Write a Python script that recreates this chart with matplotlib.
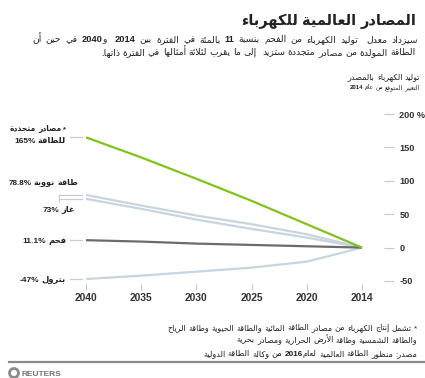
import re
import matplotlib
matplotlib.use('Agg')
import matplotlib.pyplot as plt
from matplotlib.transforms import Affine2D
from matplotlib.patches import Circle

# ---------------- data ----------------
years = ['2014', '2020', '2025', '2030', '2035', '2040']
renewables = [0, 35, 70, 103, 135, 165]
nuclear = [0, 20, 35, 48, 63, 78.8]
gas = [0, 15, 28, 42, 58, 73]
coal = [0, 2, 4, 6, 9, 11.1]
oil = [0, -21, -30, -36, -42, -47]
yticks = [-50, 0, 50, 100, 150, 200]
ytick_labels = ['-50', '0', '50', '100', '150', '200 %']

title = 'المصادر العالمية للكهرباء'
subtitle1 = 'سيزداد معدل  توليد الكهرباء من الفحم بنسبة 11 بالمئة في الفترة بين 2014  و2040 في حين أن'
subtitle2 = 'الطاقة المولدة من مصادر متجددة ستزيد  إلى ما يقرب لثلاثة أمثالها في الفترة ذاتها.'
head1 = 'توليد الكهرباء بالمصدر'
head2 = 'التغيير المتوقع من عام 2014'
lab_renew = ['* مصادر متجددة', 'للطاقة 165%']
lab_nuclear = 'طاقة نووية 78.8%'
lab_gas = 'غاز 73%'
lab_coal = 'فحم 11.1%'
lab_oil = 'بترول -47%'
foot1 = '* تشمل إنتاج الكهرباء من مصادر الطاقة المائية والطاقة الحيوية وطاقة الرياح'
foot2 = 'والطاقة الشمسية وطاقة الأرض الحرارية ومصادر بحرية'
source = 'مصدر: منظور الطاقة العالمية لعام2016 من وكالة الطاقة الدولية'

# ---------------- Arabic shaping (presentation forms) ----------------
DUAL = {0x0626: 0xFE89, 0x0628: 0xFE8F, 0x062A: 0xFE95, 0x062B: 0xFE99, 0x062C: 0xFE9D,
        0x062D: 0xFEA1, 0x062E: 0xFEA5, 0x0633: 0xFEB1, 0x0634: 0xFEB5, 0x0635: 0xFEB9,
        0x0636: 0xFEBD, 0x0637: 0xFEC1, 0x0638: 0xFEC5, 0x0639: 0xFEC9, 0x063A: 0xFECD,
        0x0641: 0xFED1, 0x0642: 0xFED5, 0x0643: 0xFED9, 0x0644: 0xFEDD, 0x0645: 0xFEE1,
        0x0646: 0xFEE5, 0x0647: 0xFEE9, 0x064A: 0xFEF1}
RIGHT = {0x0622: 0xFE81, 0x0623: 0xFE83, 0x0624: 0xFE85, 0x0625: 0xFE87, 0x0627: 0xFE8D,
         0x0629: 0xFE93, 0x062F: 0xFEA9, 0x0630: 0xFEAB, 0x0631: 0xFEAD, 0x0632: 0xFEAF,
         0x0648: 0xFEED, 0x0649: 0xFEEF}
NONJ = {0x0621: 0xFE80}
LAMALEF = {0x0627: 0xFEFB, 0x0623: 0xFEF7, 0x0625: 0xFEF9, 0x0622: 0xFEF5}


def joins_next(c):
    return ord(c) in DUAL or c == '\u0640'


def joins_prev(c):
    return ord(c) in DUAL or ord(c) in RIGHT or c == '\u0640'


def shape(s):
    out = []
    i, n = 0, len(s)
    while i < n:
        c = s[i]
        o = ord(c)
        pj = i > 0 and joins_next(s[i - 1])
        if o == 0x0644 and i + 1 < n and ord(s[i + 1]) in LAMALEF:
            b = LAMALEF[ord(s[i + 1])]
            out.append(chr(b + 1 if pj else b))
            i += 2
            continue
        nj = joins_next(c) and i + 1 < n and joins_prev(s[i + 1])
        if o in DUAL:
            b = DUAL[o]
            out.append(chr(b + (3 if pj and nj else 1 if pj else 2 if nj else 0)))
        elif o in RIGHT:
            b = RIGHT[o]
            out.append(chr(b + 1 if pj else b))
        elif o in NONJ:
            out.append(chr(NONJ[o]))
        else:
            out.append(c)
        i += 1
    return ''.join(out)


NUM = re.compile(r'-?\d[\d.,]*%?')


def runs(s):
    parts, pos = [], 0
    for m in NUM.finditer(s):
        if m.start() > pos:
            parts.append((False, s[pos:m.start()]))
        parts.append((True, m.group()))
        pos = m.end()
    if pos < len(s):
        parts.append((False, s[pos:]))
    return parts


# ---------------- figure ----------------
W, H, DPI = 425, 378, 100
fig = plt.figure(figsize=(W / DPI, H / DPI), dpi=DPI)
fig.patch.set_facecolor('white')
T = Affine2D().scale(1, -1).translate(0, H)   # top-left pixel coords
renderer = fig.canvas.get_renderer()
FAM = ['Liberation Sans', 'DejaVu Sans']
TXT = '#222222'


def _w(txt, size, weight):
    t = fig.text(0, 0, txt, fontsize=size, fontweight=weight, family=FAM, transform=T)
    w = t.get_window_extent(renderer).width
    t.remove()
    return w


def _layout(s, size, weight, numweight, color):
    seq = []
    for isnum, t in reversed(runs(s)):
        v = t if isnum else shape(t)[::-1]
        w = numweight if isnum else weight
        for piece in re.split(r'( )', v):
            if piece == ' ':
                seq.append(None)
            elif piece:
                seq.append((piece, w))
    # effective gap width for one space (corrects bbox padding)
    b = shape('ب')
    gap = _w(b + ' ' + b, size, weight) - 2 * _w(b, size, weight)
    items = []
    for tok in seq:
        if tok is None:
            items.append(None)
            continue
        art = fig.text(0, 0, tok[0], fontsize=size, fontweight=tok[1], family=FAM,
                       color=color, transform=T, va='baseline', ha='left')
        items.append((art, art.get_window_extent(renderer).width))
    return items, gap


def rtl(xr, y, s, size, weight='normal', numweight='bold', color=TXT, width=None, fit=None):
    """Draw logical-order Arabic text right-aligned at xr (baseline y, pixels)."""
    items, gap = _layout(s, size, weight, numweight, color)
    total = sum(gap if it is None else it[1] for it in items)
    if fit is not None:
        for it in items:
            if it is not None:
                it[0].remove()
        size = size * fit / total
        items, gap = _layout(s, size, weight, numweight, color)
        total = sum(gap if it is None else it[1] for it in items)
    ngap = sum(1 for it in items if it is None)
    if width is not None and ngap:
        gap = gap + (width - total) / ngap
        total = width
    x = xr - total
    for it in items:
        if it is None:
            x += gap
        else:
            it[0].set_position((x, y))
            x += it[1]
    return total


# ---------------- axes ----------------
ax = fig.add_axes([86 / W, 1 - 281 / H, (362 - 86) / W, (281 - 114) / H])
ax.set_facecolor('none')
xs = list(range(len(years)))
LIGHT = '#c8d5de'
ax.plot(xs, oil, color=LIGHT, lw=1.6, clip_on=False, solid_capstyle='butt')
ax.plot(xs, nuclear, color=LIGHT, lw=1.6, clip_on=False, solid_capstyle='butt')
ax.plot(xs, gas, color=LIGHT, lw=1.6, clip_on=False, solid_capstyle='butt')
ax.plot(xs, coal, color='#6b6b6b', lw=1.6, clip_on=False, solid_capstyle='butt')
ax.plot(xs, renewables, color='#80c31c', lw=1.6, clip_on=False, solid_capstyle='butt')
ax.set_xlim(len(years) - 1, 0)
ax.set_ylim(-50, 200)

for sp in ax.spines.values():
    sp.set_visible(False)
ax.spines['right'].set_position(('outward', 16))
ax.spines['bottom'].set_position(('outward', 2))
ax.yaxis.tick_right()
ax.set_yticks(yticks)
ax.set_yticklabels(ytick_labels)
ax.set_xticks(xs)
ax.set_xticklabels(years)
ax.tick_params(axis='y', length=7.2, width=0.8, color='#c8c8c8', pad=3.6,
               labelsize=6.6, labelcolor='#333333', direction='out')
ax.tick_params(axis='x', length=4.3, width=0.8, color='#c8c8c8', pad=2.5,
               labelsize=7.4, labelcolor='#333333', direction='out')
for lab in ax.get_xticklabels() + ax.get_yticklabels():
    lab.set_fontweight('bold')
    lab.set_family('Liberation Sans')


def ypix(v):
    return H - ax.transData.transform((len(years) - 1, v))[1]


# leader lines
LEAD = '#cccccc'


def hline(x0, x1, y):
    fig.add_artist(plt.Line2D([x0, x1], [y, y], color=LEAD, lw=0.9, transform=T))


yr = ypix(renewables[-1]); yn = ypix(nuclear[-1]); yg = ypix(gas[-1])
yc = ypix(coal[-1]); yo = ypix(oil[-1])
hline(70, 82, yr)
hline(70, 82, yc)
hline(70, 82, yo)
hline(59, 82, yn)
hline(59, 82, yg)
fig.add_artist(plt.Line2D([59, 59], [yn, yg + 3], color=LEAD, lw=0.9, transform=T))

LS = 6.0
rtl(66, yr - 6, lab_renew[0], LS, weight='bold', fit=56)
rtl(66, yr + 6, lab_renew[1], LS, weight='bold')
rtl(78, yn - 10, lab_nuclear, LS, weight='bold', fit=70)
rtl(75, yg + 13, lab_gas, LS, weight='bold')
rtl(66, yc + 3, lab_coal, LS, weight='bold')
rtl(66, yo + 3, lab_oil, LS, weight='bold')

# ---------------- texts ----------------
rtl(416, 25, title, 12.8, weight='bold', fit=176)
rtl(418, 42, subtitle1, 6.7, width=386)
rtl(416, 55, subtitle2, 6.7, fit=314)
rtl(420, 79, head1, 6.0, fit=73)
rtl(420, 89, head2, 4.6, fit=70)
rtl(417, 330, foot1, 5.75, fit=250)
rtl(417, 342, foot2, 5.75, fit=180)
rtl(417, 356, source, 5.8, fit=211)

fig.add_artist(plt.Line2D([9, 425], [362, 362], color='#8a8a8a', lw=1.6, transform=T))
fig.add_artist(Circle((14, 373), 4.5, transform=T, facecolor='none', edgecolor='#8a8a8a', lw=2))
fig.text(21, 376, 'REUTERS', transform=T, fontsize=6, fontweight='bold', color='#777777',
         family='Liberation Sans', va='baseline', ha='left')

fig.savefig('out.png', dpi=DPI, facecolor='white')
